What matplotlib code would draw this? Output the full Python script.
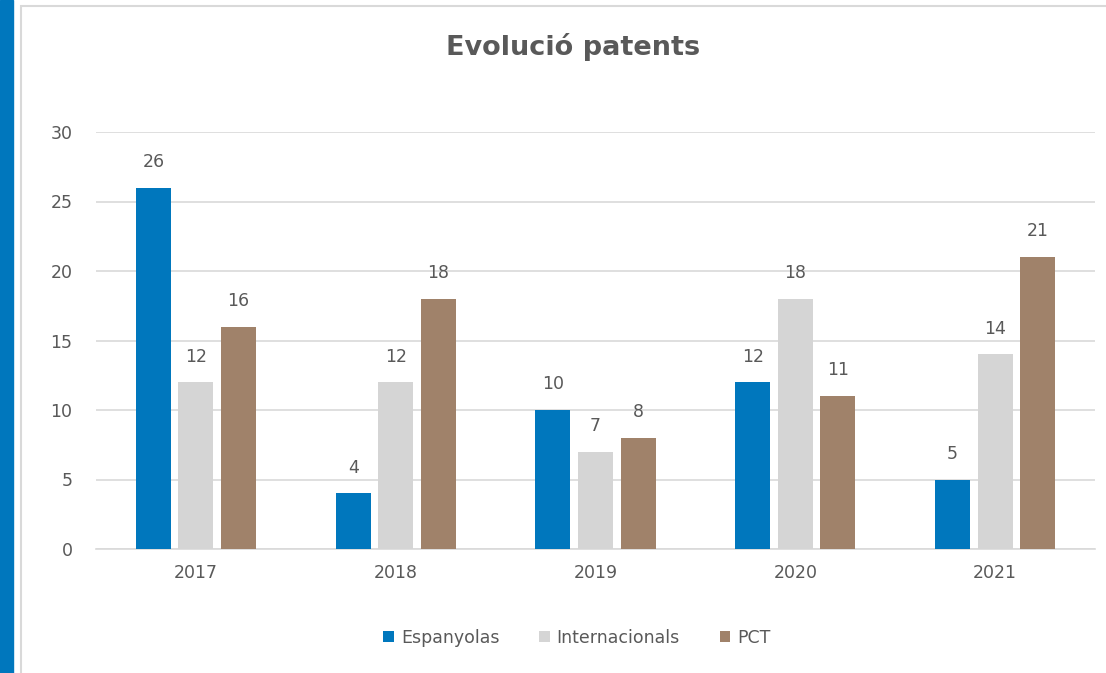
import matplotlib.pyplot as plt
import numpy as np
from matplotlib.patches import Rectangle

years = ['2017', '2018', '2019', '2020', '2021']
espanyoles = [26, 4, 10, 12, 5]
internacionals = [12, 12, 7, 18, 14]
pct = [16, 18, 8, 11, 21]

series = [('Espanyolas', espanyoles, '#0077BD'),
          ('Internacionals', internacionals, '#D5D5D5'),
          ('PCT', pct, '#A0826A')]

plt.rcParams['font.family'] = ['DejaVu Sans']
txt = '#595959'

fig = plt.figure(figsize=(11.06, 6.73), dpi=100)
# blue strip on the left and light frame
fig.patches.append(Rectangle((0, 0), 13 / 1106, 1, transform=fig.transFigure,
                             color='#0077BD', zorder=0))
fig.patches.append(Rectangle((21 / 1106, -0.1), 1.2, 1 - 6 / 673 + 0.1,
                             transform=fig.transFigure, fill=False,
                             edgecolor='#D9D9D9', linewidth=1.5, zorder=0))

ax = fig.add_axes([96 / 1106, 1 - 549 / 673, (1095 - 96) / 1106, (549 - 132) / 673])
x = np.arange(len(years))
w = 0.175
step = 0.213
for i, (name, vals, col) in enumerate(series):
    bars = ax.bar(x + (i - 1) * step, vals, w, color=col, label=name, zorder=3)
    ax.bar_label(bars, padding=12, fontsize=12.5, color=txt)

ax.set_xlim(-0.5, 4.5)
ax.set_ylim(0, 30)
ax.set_yticks(range(0, 31, 5))
ax.set_xticks(x, years)
ax.grid(axis='y', color='#D9D9D9', linewidth=1.2, zorder=0)
for s in ['top', 'right', 'left']:
    ax.spines[s].set_visible(False)
ax.spines['bottom'].set_color('#D9D9D9')
ax.spines['bottom'].set_linewidth(1.2)
ax.tick_params(length=0, labelsize=12.5, colors=txt)
ax.tick_params(axis='y', pad=17)
ax.tick_params(axis='x', pad=11)

fig.text(573 / 1106, 1 - 47 / 673, 'Evolució patents', ha='center', va='center',
         fontsize=19.5, fontweight='bold', color=txt)
fig.legend(loc='center', bbox_to_anchor=(577 / 1106, 1 - 638 / 673), ncol=3,
           frameon=False, fontsize=12.5, handlelength=0.6, handleheight=0.6,
           handletextpad=0.4, columnspacing=2.3, labelcolor=txt)

fig.savefig('out.png', dpi=100)
